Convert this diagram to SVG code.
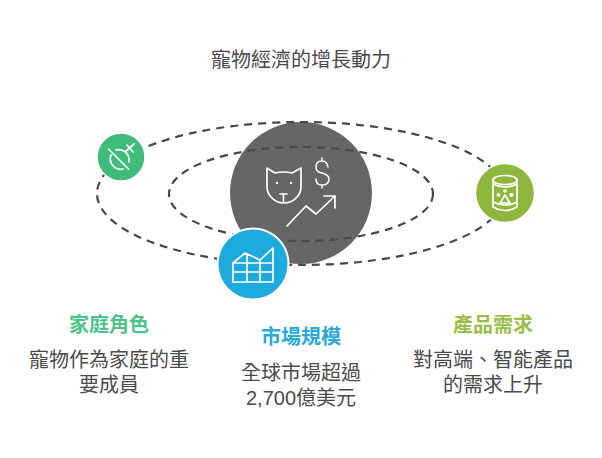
<svg xmlns="http://www.w3.org/2000/svg" width="602" height="458" viewBox="0 0 602 458">
<style>
text{font-family:"Liberation Sans","Noto Sans CJK TC",sans-serif;text-anchor:middle}
.t{font-size:20px;fill:#4a4a4a}
.h{font-size:20px;font-weight:700}
.d{fill:none;stroke:#484848;stroke-width:2.2;stroke-dasharray:8 6}
.i{fill:none;stroke:#fff;stroke-width:1.7;stroke-linecap:round;stroke-linejoin:round}
.w{fill:#fff}
</style>
<rect width="602" height="458" fill="#fff"/>
<text id="title" class="t" x="301" y="67">寵物經濟的增長動力</text>
<g id="center"><circle cx="301" cy="193" r="71" fill="#666"/>
<g class="i"><path d="M267 168l8 5q8.500-2 17 0l9-5v18q0 7-4 11q-5 6-13 6q-8 0-13-6q-4-4-4-11z"/><path d="M280 194h7M283.500 194v8"/>
<path d="M328 167q-1-6-6-6q-6 0-6 6q0 5 6 6q7 2 7 6q0 6-7 6q-6 0-6-6M322 158v3M322 185v3" style="stroke-width:1.500"/>
<path d="M287 226l19-20 10 8 19-18M324 196h11v12"/></g><circle class="w" cx="277" cy="183" r="1.200"/><circle class="w" cx="291" cy="183" r="1.200"/></g>
<g id="connectors"><ellipse class="d" cx="301" cy="193.500" rx="204" ry="71.500"/><ellipse class="d" cx="301" cy="194" rx="132" ry="47"/></g>
<g id="node-family"><circle cx="121" cy="157" r="24" fill="#3fbc7c" stroke="#fff" stroke-width="1.500"/>
<g class="i"><path d="M108.500 149l20 20"/><path d="M111 155a10.500 10.500 0 0 0 12 14"/><path d="M116 150a10.500 10.500 0 0 1 13 12"/><path d="M126 151l8-7M127 145l6 7"/></g></g>
<g id="node-market"><circle cx="253" cy="264" r="35.500" fill="#1eaadd" stroke="#fff" stroke-width="2"/>
<path class="i" d="M233 263v19h40v-34l-13 12-15-7zM233 263h40M233 272h40M247 254v28M260 260v22"/></g>
<g id="node-product"><circle cx="505" cy="193" r="29.500" fill="#8fb73e" stroke="#fff" stroke-width="1.500"/>
<g class="i"><ellipse cx="505" cy="180" rx="12" ry="4.500"/><path d="M493 180v27q12 7 24 0v-27M493 184q12 6 24 0M493 202q12 6 24 0"/><path d="M505 195l5 8h-10z"/></g><circle class="w" cx="505" cy="191" r="1.800"/><circle class="w" cx="498.500" cy="195" r="2"/><circle class="w" cx="511.500" cy="195" r="2"/></g>
<g id="label-family"><text class="h" x="109" y="332" fill="#4fc28a">家庭角色</text><text class="t" x="109" y="367">寵物作為家庭的重</text><text class="t" x="109" y="392">要成員</text></g>
<g id="label-market"><text class="h" x="301" y="344" fill="#2aa9d6">市場規模</text><text class="t" x="301" y="380">全球市場超過</text><text class="t" x="301" y="405">2,700億美元</text></g>
<g id="label-product"><text class="h" x="493" y="332" fill="#9bbd48">產品需求</text><text class="t" x="493" y="367">對高端、智能產品</text><text class="t" x="493" y="392">的需求上升</text></g>
</svg>
